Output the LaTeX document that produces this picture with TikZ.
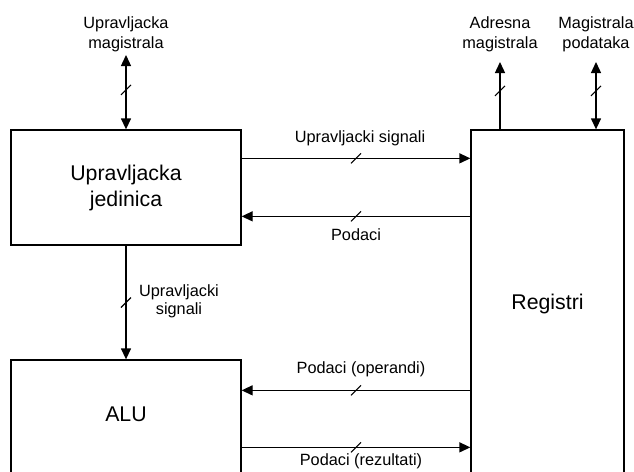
\documentclass[tikz,border=0pt]{standalone}
\usepackage{fontspec}
\setmainfont{Liberation Sans}
\usetikzlibrary{arrows.meta}
\begin{document}
\begin{tikzpicture}[x=1pt,y=-1pt,
  blk/.style={draw, line width=1.3pt, inner sep=0pt},
  big/.style={font=\fontsize{21.3}{26}\selectfont, align=center, inner sep=0pt},
  lbl/.style={font=\fontsize{16.3}{20}\selectfont, align=center, inner sep=0pt},
  wire/.style={line width=1.3pt},
  tip/.style={-{Triangle[length=11pt,width=10pt]}},
  both/.style={{Triangle[length=11pt,width=10pt]}-{Triangle[length=11pt,width=10pt]}},
  busmark/.pic={\draw[line width=1.1pt] (-5,5) -- (5,-5);}
]
\useasboundingbox (0,0) rectangle (634,471);
\clip (0,0) rectangle (634,471);

% blocks (ALU and register file run past the lower edge)
\node[blk, big, minimum width=230pt, minimum height=115pt] (uj) at (126,187.5) {Upravljacka\\jedinica};
\node[blk, minimum width=230pt, minimum height=160pt] (alu) at (126,440) {};
\node[blk, minimum width=153pt, minimum height=390pt] (reg) at (547.5,325) {};
\node[big, anchor=base] (alutxt) at (126,421.7) {ALU};
\node[big, anchor=base] (regtxt) at (547.5,309) {Registri};

% external buses
\coordinate (ucbus) at (126,55);
\coordinate (abus) at (500,62);
\coordinate (dbus) at (596,62);
\node[lbl] (ucbuslbl) at (126,34) {Upravljacka\\magistrala};
\node[lbl] (abuslbl) at (500,34) {Adresna\\magistrala};
\node[lbl] (dbuslbl) at (596,34) {Magistrala\\podataka};

\draw[wire,both] (ucbus) -- coordinate[pos=0.47] (m1) (uj.north);
\draw[wire,tip] (reg.north -| abus) -- coordinate[pos=0.57] (m2) (abus);
\draw[wire,both] (dbus) -- coordinate[pos=0.43] (m3) (reg.north -| dbus);

% control unit <-> registers
\draw[wire,tip] ([yshift=-29pt]uj.north east) -- coordinate[midway] (m4) ([yshift=-29pt]uj.north east -| reg.west);
\draw[wire,tip] ([yshift=-87pt]uj.north east -| reg.west) -- coordinate[midway] (m5) ([yshift=-87pt]uj.north east);
\node[lbl, anchor=base] (sig1) at (360,142.7) {Upravljacki signali};
\node[lbl, anchor=base] (pod1) at (356,240) {Podaci};

% control unit -> ALU
\draw[wire,tip] (uj.south) -- coordinate[midway] (m6) (alu.north);
\node[lbl, font=\fontsize{16.3}{18}\selectfont] (sig2) at (179,301) {Upravljacki\\signali};

% registers <-> ALU
\draw[wire,tip] ([yshift=-31pt]alu.north east -| reg.west) -- coordinate[midway] (m7) ([yshift=-31pt]alu.north east);
\draw[wire,tip] ([yshift=-88pt]alu.north east) -- coordinate[midway] (m8) ([yshift=-88pt]alu.north east -| reg.west);
\node[lbl, anchor=base] (pod2) at (361,373.3) {Podaci (operandi)};
\node[lbl, anchor=base] (pod3) at (361,465.5) {Podaci (rezultati)};

% bus width marks
\foreach \m in {m1,m2,m3,m4,m5,m6,m7,m8} \pic at (\m) {busmark};
\end{tikzpicture}
\end{document}
